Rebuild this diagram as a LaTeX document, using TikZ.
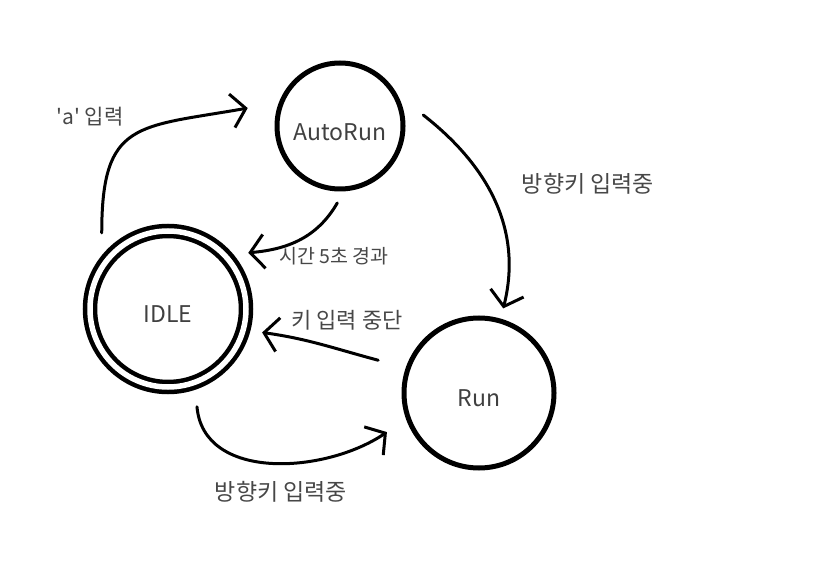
\documentclass[tikz,border=0pt]{standalone}
\usepackage{fontspec}
\newfontfamily\krfont{Noto Sans CJK KR}
\usetikzlibrary{arrows.meta}

\begin{document}
\begin{tikzpicture}[x=1pt, y=1pt,
    state/.style={draw, circle, line width=5pt, text=black!75,
                  text height=26pt, text depth=0pt,
                  font=\krfont\fontsize{23}{27}\selectfont},
    trans/.style={line width=3pt, line cap=round,
                  -{Straight Barb[length=14pt, width=34pt, line width=3pt]}},
    lbl/.style={text=black!72, font=\krfont\fontsize{23}{27}\selectfont}]
\useasboundingbox (0,0) rectangle (816,587);

% states
\node[state, minimum size=126pt, text height=30pt] (autorun) at (340,461) {AutoRun};
\node[state, minimum size=150pt] (run) at (479,194) {Run};
\node[state, minimum size=156pt, line width=4.5pt, double, double distance=5.5pt]
    (idle) at (168,278) {IDLE};

% transitions
\draw[trans] ([shift={(131:101)}]idle.center)
    to[out=90, in=190, looseness=1.5] ([shift={(169:94)}]autorun.center);
\draw[trans] ([shift={(7.5:84)}]autorun.center)
    to[out=-38, in=76] ([shift={(74:88)}]run.center);
\draw[trans] ([shift={(268:77)}]autorun.center)
    to[out=240, in=5] ([shift={(35:98)}]idle.center);
\draw[trans] ([shift={(162:106)}]run.center)
    to[out=165, in=-8] ([shift={(-14:97)}]idle.center);
\draw[trans] ([shift={(-73.5:102)}]idle.center)
    to[out=-85, in=214] ([shift={(203:100)}]run.center);

% labels
\node[lbl, font=\krfont\fontsize{21}{25}\selectfont] (l_a) at (90,470) {'a' 입력};
\node[lbl] (l_auto2run) at (588,403) {방향키 입력중};
\node[lbl, font=\krfont\fontsize{19.5}{23}\selectfont] (l_timeout) at (334,331) {시간 5초 경과};
\node[lbl, font=\krfont\fontsize{22}{26}\selectfont] (l_stop) at (347,267) {키 입력 중단};
\node[lbl] (l_idle2run) at (281,95) {방향키 입력중};
\end{tikzpicture}
\end{document}
